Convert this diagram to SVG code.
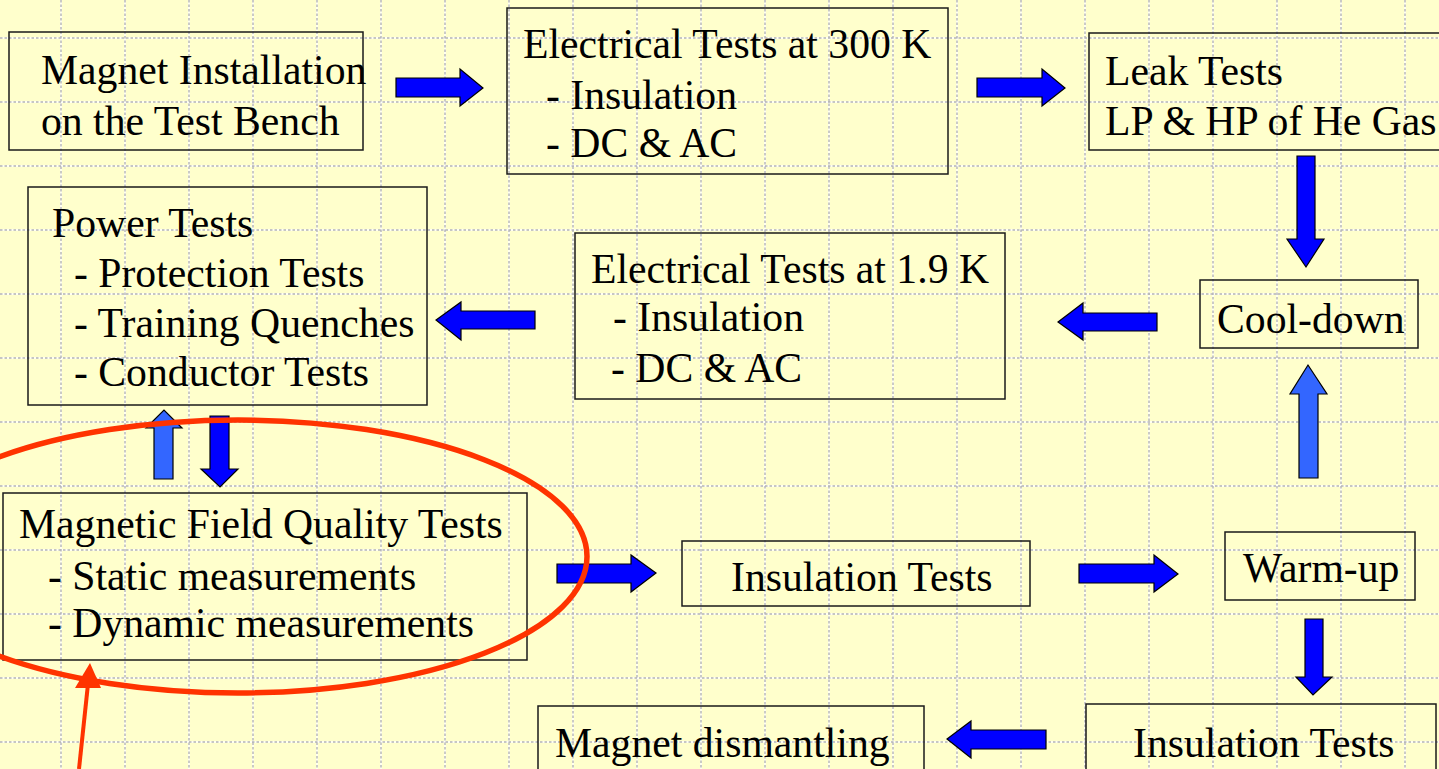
<svg xmlns="http://www.w3.org/2000/svg" width="1439" height="769" viewBox="0 0 1439 769">
<style>
.bg{fill:#FFFFCC}
.gw{stroke:#FFFFFF;stroke-width:1.4;fill:none}
.gd{stroke:#B4B4B4;stroke-width:1.4;stroke-dasharray:2.5 2;fill:none}
.box{fill:none;stroke:#1a1a1a;stroke-width:1.5}
.t{font-family:"Liberation Serif","Times New Roman",serif;font-size:41.7px;fill:#000}
.ad{fill:#0000FF;stroke:#000;stroke-width:1.2;stroke-linejoin:miter}
.al{fill:#3366FF;stroke:#000;stroke-width:1.2;stroke-linejoin:miter}
.red{fill:none;stroke:#FF3300;stroke-width:5.5}
</style>
<rect class="bg" x="0" y="0" width="1439" height="769"/>
<g id="grid">
<path class="gw" d="M61,0V769M125,0V769M189,0V769M253,0V769M317,0V769M381,0V769M445,0V769M509,0V769M573,0V769M637,0V769M701,0V769M765,0V769M829,0V769M893,0V769M957,0V769M1021,0V769M1085,0V769M1149,0V769M1213,0V769M1277,0V769M1341,0V769M1405,0V769M0,38H1439M0,102H1439M0,166H1439M0,230H1439M0,294H1439M0,358H1439M0,422H1439M0,486H1439M0,550H1439M0,614H1439M0,678H1439M0,742H1439"/>
<path class="gd" d="M61,0V769M125,0V769M189,0V769M253,0V769M317,0V769M381,0V769M445,0V769M509,0V769M573,0V769M637,0V769M701,0V769M765,0V769M829,0V769M893,0V769M957,0V769M1021,0V769M1085,0V769M1149,0V769M1213,0V769M1277,0V769M1341,0V769M1405,0V769M0,38H1439M0,102H1439M0,166H1439M0,230H1439M0,294H1439M0,358H1439M0,422H1439M0,486H1439M0,550H1439M0,614H1439M0,678H1439M0,742H1439"/>
</g>
<g id="n-install">
<rect class="box" x="9" y="32" width="354" height="118"/>
<text class="t" x="41" y="84">Magnet Installation</text>
<text class="t" x="41" y="135">on the Test Bench</text>
</g>
<g id="n-elec300">
<rect class="box" x="507" y="8" width="441" height="166"/>
<text class="t" x="523" y="58">Electrical Tests at 300 K</text>
<text class="t" x="546" y="109">- Insulation</text>
<text class="t" x="546" y="157">- DC &amp; AC</text>
</g>
<g id="n-leak">
<rect class="box" x="1089" y="33" width="360" height="117"/>
<text class="t" x="1105" y="85">Leak Tests</text>
<text class="t" x="1105" y="135">LP &amp; HP of He Gas</text>
</g>
<g id="n-power">
<rect class="box" x="28" y="187" width="399" height="218"/>
<text class="t" x="52" y="237">Power Tests</text>
<text class="t" x="74" y="287">- Protection Tests</text>
<text class="t" x="74" y="337">- Training Quenches</text>
<text class="t" x="74" y="386">- Conductor Tests</text>
</g>
<g id="n-elec19">
<rect class="box" x="575" y="233" width="430" height="166"/>
<text class="t" x="591" y="283">Electrical Tests at 1.9 K</text>
<text class="t" x="613" y="331">- Insulation</text>
<text class="t" x="611" y="382">- DC &amp; AC</text>
</g>
<g id="n-cooldown">
<rect class="box" x="1200" y="280" width="218" height="68"/>
<text class="t" x="1217" y="333">Cool-down</text>
</g>
<g id="n-mfq">
<rect class="box" x="3" y="493" width="524" height="167"/>
<text class="t" x="19" y="538">Magnetic Field Quality Tests</text>
<text class="t" x="48" y="590">- Static measurements</text>
<text class="t" x="48" y="637">- Dynamic measurements</text>
</g>
<g id="n-insul1">
<rect class="box" x="682" y="541" width="348" height="65"/>
<text class="t" x="731" y="591">Insulation Tests</text>
</g>
<g id="n-warmup">
<rect class="box" x="1225" y="532" width="190" height="68"/>
<text class="t" x="1243" y="582">Warm-up</text>
</g>
<g id="n-insul2">
<rect class="box" x="1086" y="704" width="350" height="80"/>
<text class="t" x="1133" y="757">Insulation Tests</text>
</g>
<g id="n-dismantle">
<rect class="box" x="538" y="706" width="386" height="80"/>
<text class="t" x="555" y="757">Magnet dismantling</text>
</g>
<g id="connectors">
<path class="ad" d="M396,78H460V69L483,88L460,106V97H396Z"/>
<path class="ad" d="M977,78H1042V69L1065,88L1042,106V97H977Z"/>
<path class="ad" d="M1297,156H1315V239H1324L1306,267L1287,239H1297Z"/>
<path class="ad" d="M1157,313H1083V303L1058,322L1083,340V331H1157Z"/>
<path class="ad" d="M535,311H461V302L436,320L461,340V329H535Z"/>
<path class="al" d="M1299,478V394H1290L1308,365L1327,394H1318V478Z"/>
<path class="al" d="M154,479V428H146L164,410L182,428H173V479Z"/>
<path class="ad" d="M210,416H229V469H238L220,487L201,469H210Z"/>
<path class="ad" d="M557,564H631V555L656,573L631,592V583H557Z"/>
<path class="ad" d="M1079,564H1154V555L1178,574L1154,592V583H1079Z"/>
<path class="ad" d="M1305,619H1323V677H1332L1313,695L1296,677H1305Z"/>
<path class="ad" d="M1046,730H971V721L947,739L971,758V749H1046Z"/>
</g>
<g id="highlight">
<ellipse class="red" cx="238" cy="556.5" rx="349" ry="136.5"/>
<line x1="79" y1="769" x2="88" y2="684" stroke="#FF3300" stroke-width="4"/>
<polygon points="90,663 101,688 75,688" fill="#FF3300"/>
</g>
</svg>
